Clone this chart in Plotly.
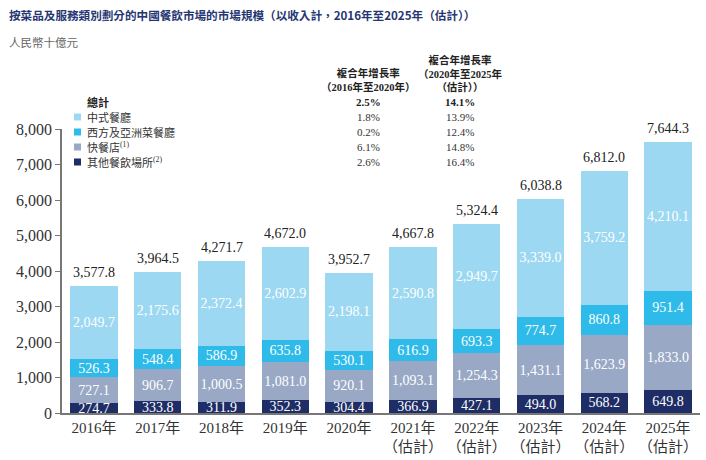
import plotly.graph_objects as go

years = ["2016年", "2017年", "2018年", "2019年", "2020年",
         "2021年<br>（估計）", "2022年<br>（估計）", "2023年<br>（估計）",
         "2024年<br>（估計）", "2025年<br>（估計）"]
other = [274.7, 333.8, 311.9, 352.3, 304.4, 366.9, 427.1, 494.0, 568.2, 649.8]
fastfood = [727.1, 906.7, 1000.5, 1081.0, 920.1, 1093.1, 1254.3, 1431.1, 1623.9, 1833.0]
western = [526.3, 548.4, 586.9, 635.8, 530.1, 616.9, 693.3, 774.7, 860.8, 951.4]
chinese = [2049.7, 2175.6, 2372.4, 2602.9, 2198.1, 2590.8, 2949.7, 3339.0, 3759.2, 4210.1]
totals = [3577.8, 3964.5, 4271.7, 4672.0, 3952.7, 4667.8, 5324.4, 6038.8, 6812.0, 7644.3]

series_names = ["其他餐飲場所<sup>(2)</sup>", "快餐店<sup>(1)</sup>", "西方及亞洲菜餐廳", "中式餐廳"]
series_vals = [other, fastfood, western, chinese]
colors = ["#1e2d66", "#98a8c5", "#2ebbea", "#9cd8f2"]
cagr_1620 = ["2.6%", "6.1%", "0.2%", "1.8%"]
cagr_2025 = ["16.4%", "14.8%", "12.4%", "13.9%"]
total_cagr = ["2.5%", "14.1%"]

SERIF = "Liberation Serif, Noto Sans CJK TC"

fig = go.Figure()
for name, vals, col in zip(series_names, series_vals, colors):
    fig.add_trace(go.Bar(
        x=years, y=vals, name=name, marker=dict(color=col, line=dict(width=0)),
        texttemplate="%{y:,.1f}", textposition="inside", insidetextanchor="middle",
        textangle=0,
        textfont=dict(family=SERIF, size=14, color="white"),
        constraintext="none", cliponaxis=False, showlegend=False,
    ))

# plot area pixel mapping: x 62..700, y 129..413
def px(x):
    return (x - 62) / 638

def py(y):
    return (413 - y) / 284

ann = []
for yr, t in zip(years, totals):
    ann.append(dict(text=f"{t:,.1f}", x=yr, y=t, xref="x", yref="y", yanchor="bottom",
                    yshift=4, showarrow=False,
                    font=dict(family=SERIF, size=14, color="#222")))

pann = []
pann.append(dict(text="<b>總計</b>", x=px(85), y=py(102), xanchor="left", yanchor="middle",
                 font=dict(family=SERIF, size=11, color="#222")))
pann.append(dict(text="<b>" + total_cagr[0] + "</b>", x=px(368), y=py(102), xanchor="center", yanchor="middle",
                 font=dict(family=SERIF, size=11, color="#222")))
pann.append(dict(text="<b>" + total_cagr[1] + "</b>", x=px(460), y=py(102), xanchor="center", yanchor="middle",
                 font=dict(family=SERIF, size=11, color="#222")))
pann.append(dict(text="<b>複合年增長率<br>（2016年至2020年）</b>", x=px(368), y=py(80), xanchor="center",
                 yanchor="middle", font=dict(family=SERIF, size=10.5, color="#222"), align="center"))
pann.append(dict(text="<b>複合年增長率<br>（2020年至2025年<br>（估計））</b>", x=px(460), y=py(74), xanchor="center",
                 yanchor="middle", font=dict(family=SERIF, size=10.5, color="#222"), align="center"))

shapes = []
rows_y = [162, 147, 132, 117]
for i in range(4):
    yy = rows_y[i]
    pann.append(dict(text=series_names[i], x=px(85), y=py(yy), xanchor="left", yanchor="middle",
                     font=dict(family=SERIF, size=11, color="#333")))
    pann.append(dict(text=cagr_1620[i], x=px(368), y=py(yy), xanchor="center", yanchor="middle",
                     font=dict(family=SERIF, size=11, color="#333")))
    pann.append(dict(text=cagr_2025[i], x=px(460), y=py(yy), xanchor="center", yanchor="middle",
                     font=dict(family=SERIF, size=11, color="#333")))
    shapes.append(dict(type="rect", xref="paper", yref="paper",
                       x0=px(74), x1=px(81), y0=py(yy + 3.5), y1=py(yy - 3.5),
                       fillcolor=colors[i], line=dict(width=0)))

# title + subtitle
pann.append(dict(text="<b>按菜品及服務類別劃分的中國餐飲市場的市場規模（以收入計，2016年至2025年（估計））</b>",
                 x=px(7), y=py(15), xanchor="left", yanchor="middle",
                 font=dict(family="Noto Sans CJK TC", size=11.6, color="#263673")))
pann.append(dict(text="人民幣十億元", x=px(7), y=py(42), xanchor="left", yanchor="middle",
                 font=dict(family="Noto Sans CJK TC", size=11.5, color="#666")))

for a in pann:
    a.update(xref="paper", yref="paper", showarrow=False)

fig.update_layout(
    width=706, height=460,
    margin=dict(l=62, r=6, t=129, b=47),
    paper_bgcolor="white", plot_bgcolor="white",
    barmode="stack", bargap=0.26,
    annotations=ann + pann, shapes=shapes,
    yaxis=dict(range=[0, 8000], tickvals=list(range(0, 8001, 1000)), tickformat=",",
               showline=True, linecolor="#777", linewidth=1.5, ticks="outside", ticklen=5,
               tickcolor="#777", showgrid=False, zeroline=False,
               tickfont=dict(family=SERIF, size=16, color="#333")),
    xaxis=dict(showline=True, linecolor="#777", linewidth=1.5, ticks="", showgrid=False,
               tickfont=dict(family=SERIF, size=15, color="#333")),
)

fig.write_html("out.html", config={"displayModeBar": False},
               post_script="document.body.style.margin='0px';")
